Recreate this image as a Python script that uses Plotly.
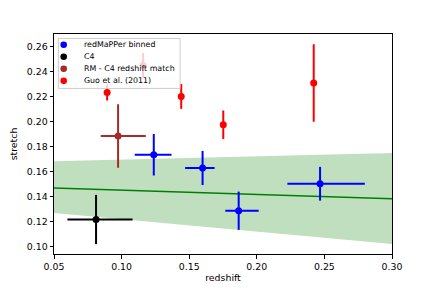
import plotly.graph_objects as go

# redMaPPer binned
rm_z = [0.1238, 0.1599, 0.1866, 0.2468]
rm_s = [0.1736, 0.1630, 0.1288, 0.1504]
rm_zerr_lo = [0.0141, 0.0129, 0.0099, 0.0242]
rm_zerr_hi = [0.0131, 0.0089, 0.0148, 0.0331]
rm_serr = [0.0166, 0.0136, 0.0153, 0.0135]

# C4
c4_z = [0.0811]
c4_s = [0.1218]
c4_zerr_lo = [0.0212]
c4_zerr_hi = [0.0270]
c4_serr = [0.0197]

# RM - C4 redshift match
mt_z = [0.0974]
mt_s = [0.1886]
mt_zerr_lo = [0.0128]
mt_zerr_hi = [0.0205]
mt_serr = [0.0254]

# Guo et al. (2011)
guo_z = [0.0893, 0.1159, 0.1441, 0.1752, 0.2421]
guo_s = [0.2235, 0.2450, 0.2203, 0.1976, 0.2310]
guo_serr = [0.0065, 0.0100, 0.0100, 0.0114, 0.0310]

# linear fit and confidence band
fit_z = [0.05, 0.30]
fit_s = [0.1470, 0.1384]
band_lo = [0.1270, 0.1022]
band_hi = [0.1685, 0.1750]

series_names = ["redMaPPer binned", "C4", "RM - C4 redshift match", "Guo et al. (2011)"]
series_colors = ["blue", "black", "brown", "red"]

x_ticks = [0.05, 0.10, 0.15, 0.20, 0.25, 0.30]
y_ticks = [0.10, 0.12, 0.14, 0.16, 0.18, 0.20, 0.22, 0.24, 0.26]

fig = go.Figure()

fig.add_trace(go.Scatter(
    x=fit_z + fit_z[::-1], y=band_hi + band_lo[::-1],
    fill="toself", fillcolor="rgba(0,128,0,0.25)",
    line=dict(width=0), mode="lines", showlegend=False, hoverinfo="skip"))
fig.add_trace(go.Scatter(
    x=fit_z, y=fit_s, mode="lines",
    line=dict(color="green", width=1.5), showlegend=False))


def pts(z, s, name, color, zlo=None, zhi=None, serr=None):
    kw = {}
    if zlo is not None:
        kw["error_x"] = dict(type="data", symmetric=False, array=zhi, arrayminus=zlo,
                             color=color, thickness=2, width=0)
    if serr is not None:
        kw["error_y"] = dict(type="data", array=serr, color=color, thickness=2, width=0)
    fig.add_trace(go.Scatter(x=z, y=s, mode="markers", name=name, showlegend=False,
                             marker=dict(color=color, size=7), **kw))


pts(rm_z, rm_s, series_names[0], series_colors[0], rm_zerr_lo, rm_zerr_hi, rm_serr)
pts(c4_z, c4_s, series_names[1], series_colors[1], c4_zerr_lo, c4_zerr_hi, c4_serr)
pts(mt_z, mt_s, series_names[2], series_colors[2], mt_zerr_lo, mt_zerr_hi, mt_serr)
pts(guo_z, guo_s, series_names[3], series_colors[3], serr=guo_serr)

# legend box (matplotlib style, semi-transparent, drawn above data)
shapes = [dict(type="rect", xref="paper", yref="paper", x0=0.013, x1=0.373,
               y0=0.7527, y1=0.98, layer="above",
               fillcolor="rgba(255,255,255,0.8)", line=dict(color="#cccccc", width=1))]
annotations = []
row_top, row_step = 0.9514, 0.0548
for i, (nm, col) in enumerate(zip(series_names, series_colors)):
    yy = row_top - i * row_step
    shapes.append(dict(type="circle", xref="paper", yref="paper",
                       xsizemode="pixel", ysizemode="pixel",
                       xanchor=0.0287, yanchor=yy, x0=-3.3, x1=3.3, y0=-3.3, y1=3.3,
                       layer="above", fillcolor=col, line=dict(width=0)))
    annotations.append(dict(xref="paper", yref="paper", x=0.082, y=yy, text=nm,
                            xanchor="left", yanchor="middle", showarrow=False,
                            font=dict(family="DejaVu Sans", size=7.9, color="black")))

axis_common = dict(showline=True, linecolor="black", linewidth=1, mirror=True,
                   ticks="outside", ticklen=3.5, tickwidth=1, tickcolor="black",
                   showgrid=False, zeroline=False, automargin=False,
                   tickfont=dict(family="DejaVu Sans", size=9.4, color="black"))

fig.update_layout(
    width=436, height=291,
    margin=dict(l=46.3, r=52, t=26.3, b=44.7),
    plot_bgcolor="white", paper_bgcolor="white",
    font=dict(family="DejaVu Sans", size=9.4, color="black"),
    showlegend=False,
    xaxis=dict(range=[0.05, 0.30], tickvals=x_ticks,
               ticktext=[f"{v:.2f}" for v in x_ticks],
               title=dict(text="redshift", standoff=3, font=dict(size=9.4)), **axis_common),
    yaxis=dict(range=[0.0942, 0.2702], tickvals=y_ticks,
               ticktext=[f"{v:.2f}" for v in y_ticks],
               title=dict(text="stretch", standoff=7, font=dict(size=9.4)), **axis_common),
    shapes=shapes,
    annotations=annotations,
)

fig.write_html("out.html")
